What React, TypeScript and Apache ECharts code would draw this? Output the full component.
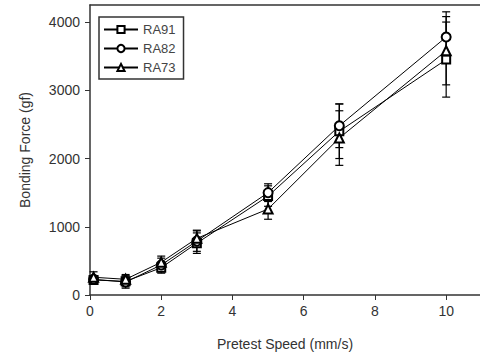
import React, { useEffect, useRef } from "react";
import * as echarts from "echarts";

const seriesNames = ["RA91", "RA82", "RA73"];
const speeds = [0.1, 1, 2, 3, 5, 7, 10];
const ra91 = [220, 200, 400, 760, 1450, 2400, 3450];
const ra91Err = [60, 80, 80, 150, 150, 400, 550];
const ra82 = [230, 190, 440, 790, 1500, 2480, 3780];
const ra82Err = [50, 90, 100, 150, 130, 320, 370];
const ra73 = [260, 230, 480, 830, 1260, 2300, 3580];
const ra73Err = [80, 70, 90, 120, 150, 400, 500];
const xTicks = [0, 2, 4, 6, 8, 10];
const yTicks = [0, 1000, 2000, 3000, 4000];

const FONT = "Liberation Sans, Arial, sans-serif";

export default function App() {
  const ref = useRef<HTMLDivElement>(null);
  useEffect(() => {
    if (!ref.current) return;
    const chart = echarts.init(ref.current, undefined, { renderer: "svg" });
    const values = [ra91, ra82, ra73];
    const errs = [ra91Err, ra82Err, ra73Err];
    const symbols = ["emptyRect", "emptyCircle", "emptyTriangle"];
    const sizes = [8, 9, 9];

    const lineSeries = seriesNames.map((name, i) => ({
      name,
      type: "line",
      data: speeds.map((x, j) => [x, values[i][j]]),
      symbol: symbols[i],
      symbolSize: sizes[i],
      showAllSymbol: true,
      lineStyle: { color: "#000", width: 1 },
      itemStyle: { color: "#000", borderColor: "#000", borderWidth: 1 },
      z: 3,
    }));

    const errSeries = seriesNames.map((name, i) => ({
      name: name + " err",
      type: "custom",
      data: speeds.map((x, j) => [x, values[i][j] - errs[i][j], values[i][j] + errs[i][j]]),
      encode: { x: 0, y: [1, 2] },
      z: 2,
      renderItem: (params: any, api: any) => {
        const x = api.value(0);
        const lo = api.coord([x, api.value(1)]);
        const hi = api.coord([x, api.value(2)]);
        const w = 4;
        const st = { stroke: "#000", lineWidth: 1.2 };
        return {
          type: "group",
          children: [
            { type: "line", shape: { x1: lo[0], y1: lo[1], x2: hi[0], y2: hi[1] }, style: st },
            { type: "line", shape: { x1: lo[0] - w, y1: lo[1], x2: lo[0] + w, y2: lo[1] }, style: st },
            { type: "line", shape: { x1: hi[0] - w, y1: hi[1], x2: hi[0] + w, y2: hi[1] }, style: st },
          ],
        };
      },
    }));

    chart.setOption({
      animation: false,
      backgroundColor: "#fff",
      grid: {
        left: 90,
        top: 5,
        right: 0,
        bottom: 59,
        show: false,
      },
      legend: {
        data: seriesNames,
        orient: "vertical",
        left: 99,
        top: 17,
        itemWidth: 34,
        itemHeight: 9,
        itemGap: 6,
        padding: [6, 8, 5, 4],
        borderColor: "#333",
        borderWidth: 1.5,
        textStyle: { fontSize: 13, color: "#444", fontFamily: FONT },
      },
      xAxis: [
        {
          type: "value",
          min: 0,
          max: 10.95,
          interval: 2,
          name: "Pretest Speed (mm/s)",
          nameLocation: "middle",
          nameGap: 42,
          nameTextStyle: { fontSize: 14, color: "#333", fontFamily: FONT },
          axisLine: { show: true, lineStyle: { color: "#333", width: 1.5 } },
          axisTick: { show: true, inside: false, length: 5, customValues: xTicks, lineStyle: { color: "#333" } },
          axisLabel: { customValues: xTicks, fontSize: 14, color: "#333", margin: 9, fontFamily: FONT },
          splitLine: { show: false },
        },
        {
          type: "value",
          position: "top",
          min: 0,
          max: 10.95,
          axisLine: { show: true, lineStyle: { color: "#333", width: 1.5 } },
          axisTick: { show: false },
          axisLabel: { show: false },
          splitLine: { show: false },
        },
      ],
      yAxis: {
        type: "value",
        min: 0,
        max: 4250,
        interval: 1000,
        name: "Bonding Force (gf)",
        nameLocation: "middle",
        nameGap: 58,
        nameTextStyle: { fontSize: 14, color: "#333", fontFamily: FONT },
        axisLine: { show: true, lineStyle: { color: "#333", width: 1.5 } },
        axisTick: { show: true, inside: false, length: 5, customValues: yTicks, lineStyle: { color: "#333" } },
        axisLabel: {
          customValues: yTicks,
          fontSize: 14,
          color: "#333",
          margin: 10,
          fontFamily: FONT,
          formatter: (v: number) => String(v),
        },
        splitLine: { show: false },
      },
      series: [...errSeries, ...lineSeries],
    });
    return () => chart.dispose();
  }, []);
  return <div ref={ref} style={{ position: "fixed", left: 0, top: 0, width: 480, height: 356 }} />;
}
